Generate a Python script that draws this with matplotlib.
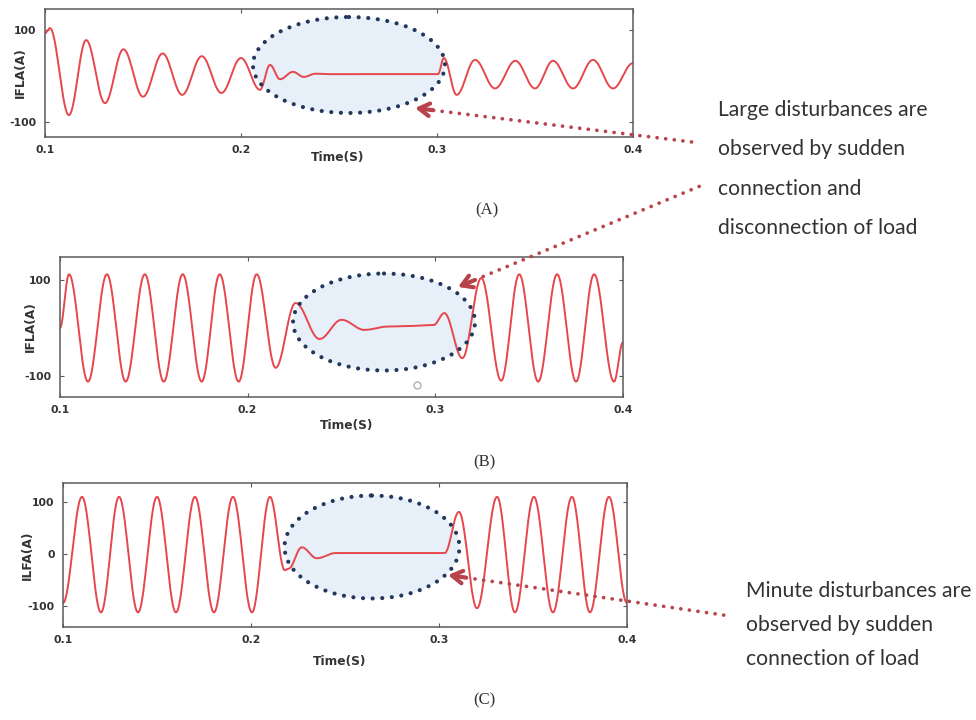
import numpy as np
import matplotlib
matplotlib.use("Agg")
import matplotlib.pyplot as plt
from matplotlib.patches import Ellipse

W, H = 976, 720

# ---- Load-current traces: turning points (time [s], current [A]) ----
t_a = [0.1, 0.1025, 0.1122, 0.121, 0.1306, 0.140, 0.150, 0.160, 0.170, 0.180,
       0.190, 0.200, 0.2097, 0.2148, 0.2199, 0.2265, 0.2320, 0.2380, 0.2450,
       0.3005, 0.3035, 0.310, 0.3194, 0.3296, 0.340, 0.350, 0.3592, 0.3694,
       0.3796, 0.3898, 0.4]
i_a = [93, 104, -85, 78, -59, 58, -45, 49, -41, 43,
       -37, 39, -30, 24, -7, 9, -2, 5, 4,
       4, 39, -41, 35, -27, 33, -27, 33, -27,
       35, -27, 28]

t_b = [0.1, 0.1048, 0.1149, 0.125, 0.135, 0.1452, 0.1553, 0.1654, 0.1755,
       0.1851, 0.1952, 0.2048, 0.2149, 0.2255, 0.2383, 0.250, 0.2622, 0.275,
       0.285, 0.2990, 0.3048, 0.3144, 0.3245, 0.3351, 0.3447, 0.3548, 0.3649,
       0.375, 0.3846, 0.3952, 0.4]
i_b = [0, 112, -112, 112, -112, 112, -112, 112, -112,
       112, -112, 112, -83, 52, -23, 17, -4, 3,
       4, 6, 31, -63, 104, -110, 112, -112, 112,
       -112, 112, -112, -30]

t_c = [0.1, 0.1101, 0.1202, 0.1298, 0.1399, 0.15, 0.1601, 0.1702, 0.1803,
       0.1904, 0.2005, 0.2101, 0.2180, 0.2200, 0.2270, 0.2350, 0.2450, 0.3030,
       0.3106, 0.3202, 0.3309, 0.3404, 0.3505, 0.3606, 0.3707, 0.3803, 0.3904,
       0.4]
i_c = [-94, 110, -112, 110, -112, 110, -112, 110, -112,
       110, -112, 110, -31, -28, 13, -8, 2, 2,
       81, -104, 110, -112, 110, -112, 110, -112, 110,
       -94]

x_ticks = [0.1, 0.2, 0.3, 0.4]
x_tick_labels = ["0.1", "0.2", "0.3", "0.4"]
y_ticks_ab = [-100, 100]
y_ticks_c = [-100, 0, 100]
y_labels = ["IFLA(A)", "IFLA(A)", "ILFA(A)"]
panel_tags = ["(A)", "(B)", "(C)"]
note_large = ["Large disturbances are", "observed by sudden",
              "connection and", "disconnection of load"]
note_minute = ["Minute disturbances are", "observed by sudden",
               "connection of load"]

RED = "#e5474d"
NAVY = "#22385c"
ARROW = "#b8434b"
FILL = "#e7eff8"
FRAME = "#5a5a5a"
TXT = "#333333"


def smooth_trace(tk, vk, n=30):
    """Join successive turning points with half-cosine strokes."""
    xs, ys = [], []
    for k in range(len(tk) - 1):
        s = np.linspace(0.0, 1.0, n, endpoint=False)
        w = (1 - np.cos(np.pi * s)) / 2
        xs.append(tk[k] + (tk[k + 1] - tk[k]) * s)
        ys.append(vk[k] + (vk[k + 1] - vk[k]) * w)
    xs.append([tk[-1]])
    ys.append([vk[-1]])
    return np.concatenate(xs), np.concatenate(ys)


fig = plt.figure(figsize=(W / 100, H / 100), dpi=100)
fig.patch.set_facecolor("white")

# Background layer (ellipse fills) below the traces
bg = fig.add_axes([0, 0, 1, 1], zorder=0)
bg.set_xlim(0, W)
bg.set_ylim(H, 0)
bg.axis("off")

# Overlay layer (dotted outlines, arrows, notes) above the traces
ov = fig.add_axes([0, 0, 1, 1], zorder=5)
ov.set_xlim(0, W)
ov.set_ylim(H, 0)
ov.axis("off")
ov.patch.set_alpha(0)


def px_axes(left, top, right, bottom):
    return fig.add_axes([left / W, 1 - bottom / H, (right - left) / W,
                         (bottom - top) / H], zorder=2)


panels = [
    dict(box=(45, 9, 633, 137), ylim=(-132.6, 145.6), t=t_a, v=i_a,
         yt=y_ticks_ab, ylab_x=20, time_xy=(338, 157), tag_xy=(487, 210),
         ell=(349, 65, 192, 96)),
    dict(box=(60, 257, 623, 397), ylim=(-144, 148), t=t_b, v=i_b,
         yt=y_ticks_ab, ylab_x=30, time_xy=(347, 425), tag_xy=(484, 462),
         ell=(384, 322, 182, 97)),
    dict(box=(63, 483, 627, 627), ylim=(-140, 136.5), t=t_c, v=i_c,
         yt=y_ticks_c, ylab_x=27, time_xy=(340, 662), tag_xy=(484, 700),
         ell=(372, 547, 175, 103)),
]

for k, p in enumerate(panels):
    l, t, r, b = p["box"]
    ax = px_axes(l, t, r, b)
    ax.patch.set_alpha(0)
    x, y = smooth_trace(p["t"], p["v"])
    ax.plot(x, y, color=RED, lw=1.4, solid_joinstyle="round")
    ax.set_xlim(0.1, 0.4)
    ax.set_ylim(*p["ylim"])
    ax.set_xticks(x_ticks)
    ax.set_xticklabels(x_tick_labels)
    ax.set_yticks(p["yt"])
    ax.set_yticklabels([str(v) for v in p["yt"]])
    ax.tick_params(direction="in", length=3, width=0.8, color=FRAME,
                   top=True, right=True, labelsize=7.8, labelcolor=TXT,
                   pad=6)
    for lab in ax.get_xticklabels() + ax.get_yticklabels():
        lab.set_fontweight("bold")
    for sp in ax.spines.values():
        sp.set_color(FRAME)
        sp.set_linewidth(1.1)

    # axis titles
    ov.text(p["ylab_x"], (t + b) / 2, y_labels[k], rotation=90, ha="center",
            va="center", fontsize=8.8, fontweight="bold", color=TXT)
    ov.text(*p["time_xy"], "Time(S)", ha="center", va="center",
            fontsize=8.8, fontweight="bold", color=TXT)
    ov.text(*p["tag_xy"], panel_tags[k], ha="center", va="center",
            fontsize=12, family="Liberation Serif", color=TXT)

    cx, cy, ew, eh = p["ell"]
    bg.add_patch(Ellipse((cx, cy), ew, eh, facecolor=FILL, edgecolor="none"))
    ov.add_patch(Ellipse((cx, cy), ew, eh, facecolor="none", edgecolor=NAVY,
                         lw=3.0, linestyle=(0, (0.01, 2.3)),
                         capstyle="round"))

# small marker visible in panel B
ov.plot([417], [385], marker="o", ms=5, mfc="white", mec="#b0b0b0", mew=1)


def dotted_arrow(tail, tip):
    tail = np.array(tail, float)
    tip = np.array(tip, float)
    d = (tail - tip) / np.hypot(*(tail - tip))
    start = tip + d * 10
    ov.plot([start[0], tail[0]], [start[1], tail[1]], color=ARROW, lw=2.7,
            linestyle=(0, (0.01, 2.3)), solid_capstyle="round",
            dash_capstyle="round")
    ov.annotate("", xy=tip, xytext=tip + d * 18,
                arrowprops=dict(arrowstyle="->,head_length=0.75,head_width=0.45",
                                lw=3.0, color=ARROW, shrinkA=0, shrinkB=0))


dotted_arrow((700, 143), (415, 108))
dotted_arrow((705, 184), (458, 287))
dotted_arrow((730, 616), (448, 575))

for j, line in enumerate(note_large):
    ov.text(718, 110 + j * 39.3, line, ha="left", va="center", fontsize=15.2,
            family="Lato", color=TXT)
for j, line in enumerate(note_minute):
    ov.text(746, 591 + j * 34, line, ha="left", va="center", fontsize=15.2,
            family="Lato", color=TXT)

fig.savefig("out.png", dpi=100, facecolor="white")
